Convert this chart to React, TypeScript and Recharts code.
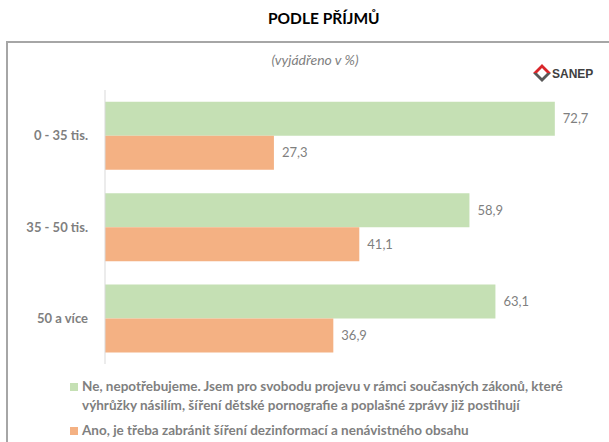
import { Bar, BarChart, LabelList, XAxis, YAxis } from "recharts";

const categories = ["0 - 35 tis.", "35 - 50 tis.", "50 a více"];
const neValues = [72.7, 58.9, 63.1];
const anoValues = [27.3, 41.1, 36.9];
const seriesNames = [
  "Ne, nepotřebujeme. Jsem pro svobodu projevu v rámci současných zákonů, které výhrůžky násilím, šíření dětské pornografie a poplašné zprávy již postihují",
  "Ano, je třeba zabránit šíření dezinformací a nenávistného obsahu",
];
const colors = ["#C5E0B4", "#F4B183"];

const data = categories.map((c, i) => ({ name: c, ne: neValues[i], ano: anoValues[i] }));

const FONT = "Lato, 'Open Sans', sans-serif";
const fmt = (v: number) => v.toFixed(1).replace(".", ",");

function Logo() {
  return (
    <svg width={64} height={22} style={{ position: "absolute", left: 532, top: 62 }}>
      <path d="M1 11 L10 2 L19 11 L15 11 L10 6 L5 11 Z" fill="#D9262A" />
      <path d="M1 11 L10 20 L19 11 L15 11 L10 16 L5 11 Z" fill="#595959" />
      <text x={20} y={15.5} fontFamily="'Liberation Sans', Arial" fontSize={12} fontWeight={700} fill="#404040">
        SANEP
      </text>
    </svg>
  );
}

export default function App() {
  return (
    <div style={{ position: "absolute", left: 0, top: 0, width: 609, height: 442, background: "#fff", overflow: "hidden", fontFamily: FONT }}>
      <div style={{ position: "absolute", top: 9, left: 268, width: 92, textAlign: "center", fontWeight: 700, fontSize: 15.5, color: "#000", whiteSpace: "nowrap" }}>
        PODLE PŘÍJMŮ
      </div>
      <div style={{ position: "absolute", left: 6, top: 41, width: 640, height: 440, border: "2px solid #A6A6A6" }} />
      <div style={{ position: "absolute", top: 51, left: 265, width: 100, textAlign: "center", fontStyle: "italic", fontSize: 14, color: "#7F7F7F", whiteSpace: "nowrap" }}>
        (vyjádřeno v %)
      </div>
      <Logo />
      <div style={{ position: "absolute", left: 0, top: 0 }}>
        <BarChart
          width={609}
          height={442}
          data={data}
          layout="vertical"
          margin={{ top: 90, right: 9, bottom: 78, left: 0 }}
          barCategoryGap="13%"
          barGap={0}
        >
          <XAxis type="number" domain={[0, 80]} hide />
          <YAxis
            type="category"
            dataKey="name"
            width={105}
            tickLine={false}
            tickMargin={11}
            axisLine={{ stroke: "#D9D9D9" }}
            tick={{ fontFamily: FONT, fontSize: 13, fontWeight: 700, fill: "#7F7F7F" }}
          />
          <Bar dataKey="ne" fill={colors[0]} isAnimationActive={false}>
            <LabelList dataKey="ne" position="right" offset={8} formatter={(v: number) => fmt(v)} style={{ fontFamily: FONT, fontSize: 13, fill: "#7F7F7F" }} />
          </Bar>
          <Bar dataKey="ano" fill={colors[1]} isAnimationActive={false}>
            <LabelList dataKey="ano" position="right" offset={8} formatter={(v: number) => fmt(v)} style={{ fontFamily: FONT, fontSize: 13, fill: "#7F7F7F" }} />
          </Bar>
        </BarChart>
      </div>
      <div style={{ position: "absolute", left: 70, top: 377, width: 500, fontSize: 13.5, fontWeight: 700, color: "#7F7F7F", lineHeight: "19px" }}>
        {seriesNames.map((n, i) => (
          <div key={i} style={{ position: "relative", paddingLeft: 12, marginBottom: 6 }}>
            <span style={{ position: "absolute", left: 0, top: 6, width: 8, height: 8, background: colors[i] }} />
            {n}
          </div>
        ))}
      </div>
    </div>
  );
}
